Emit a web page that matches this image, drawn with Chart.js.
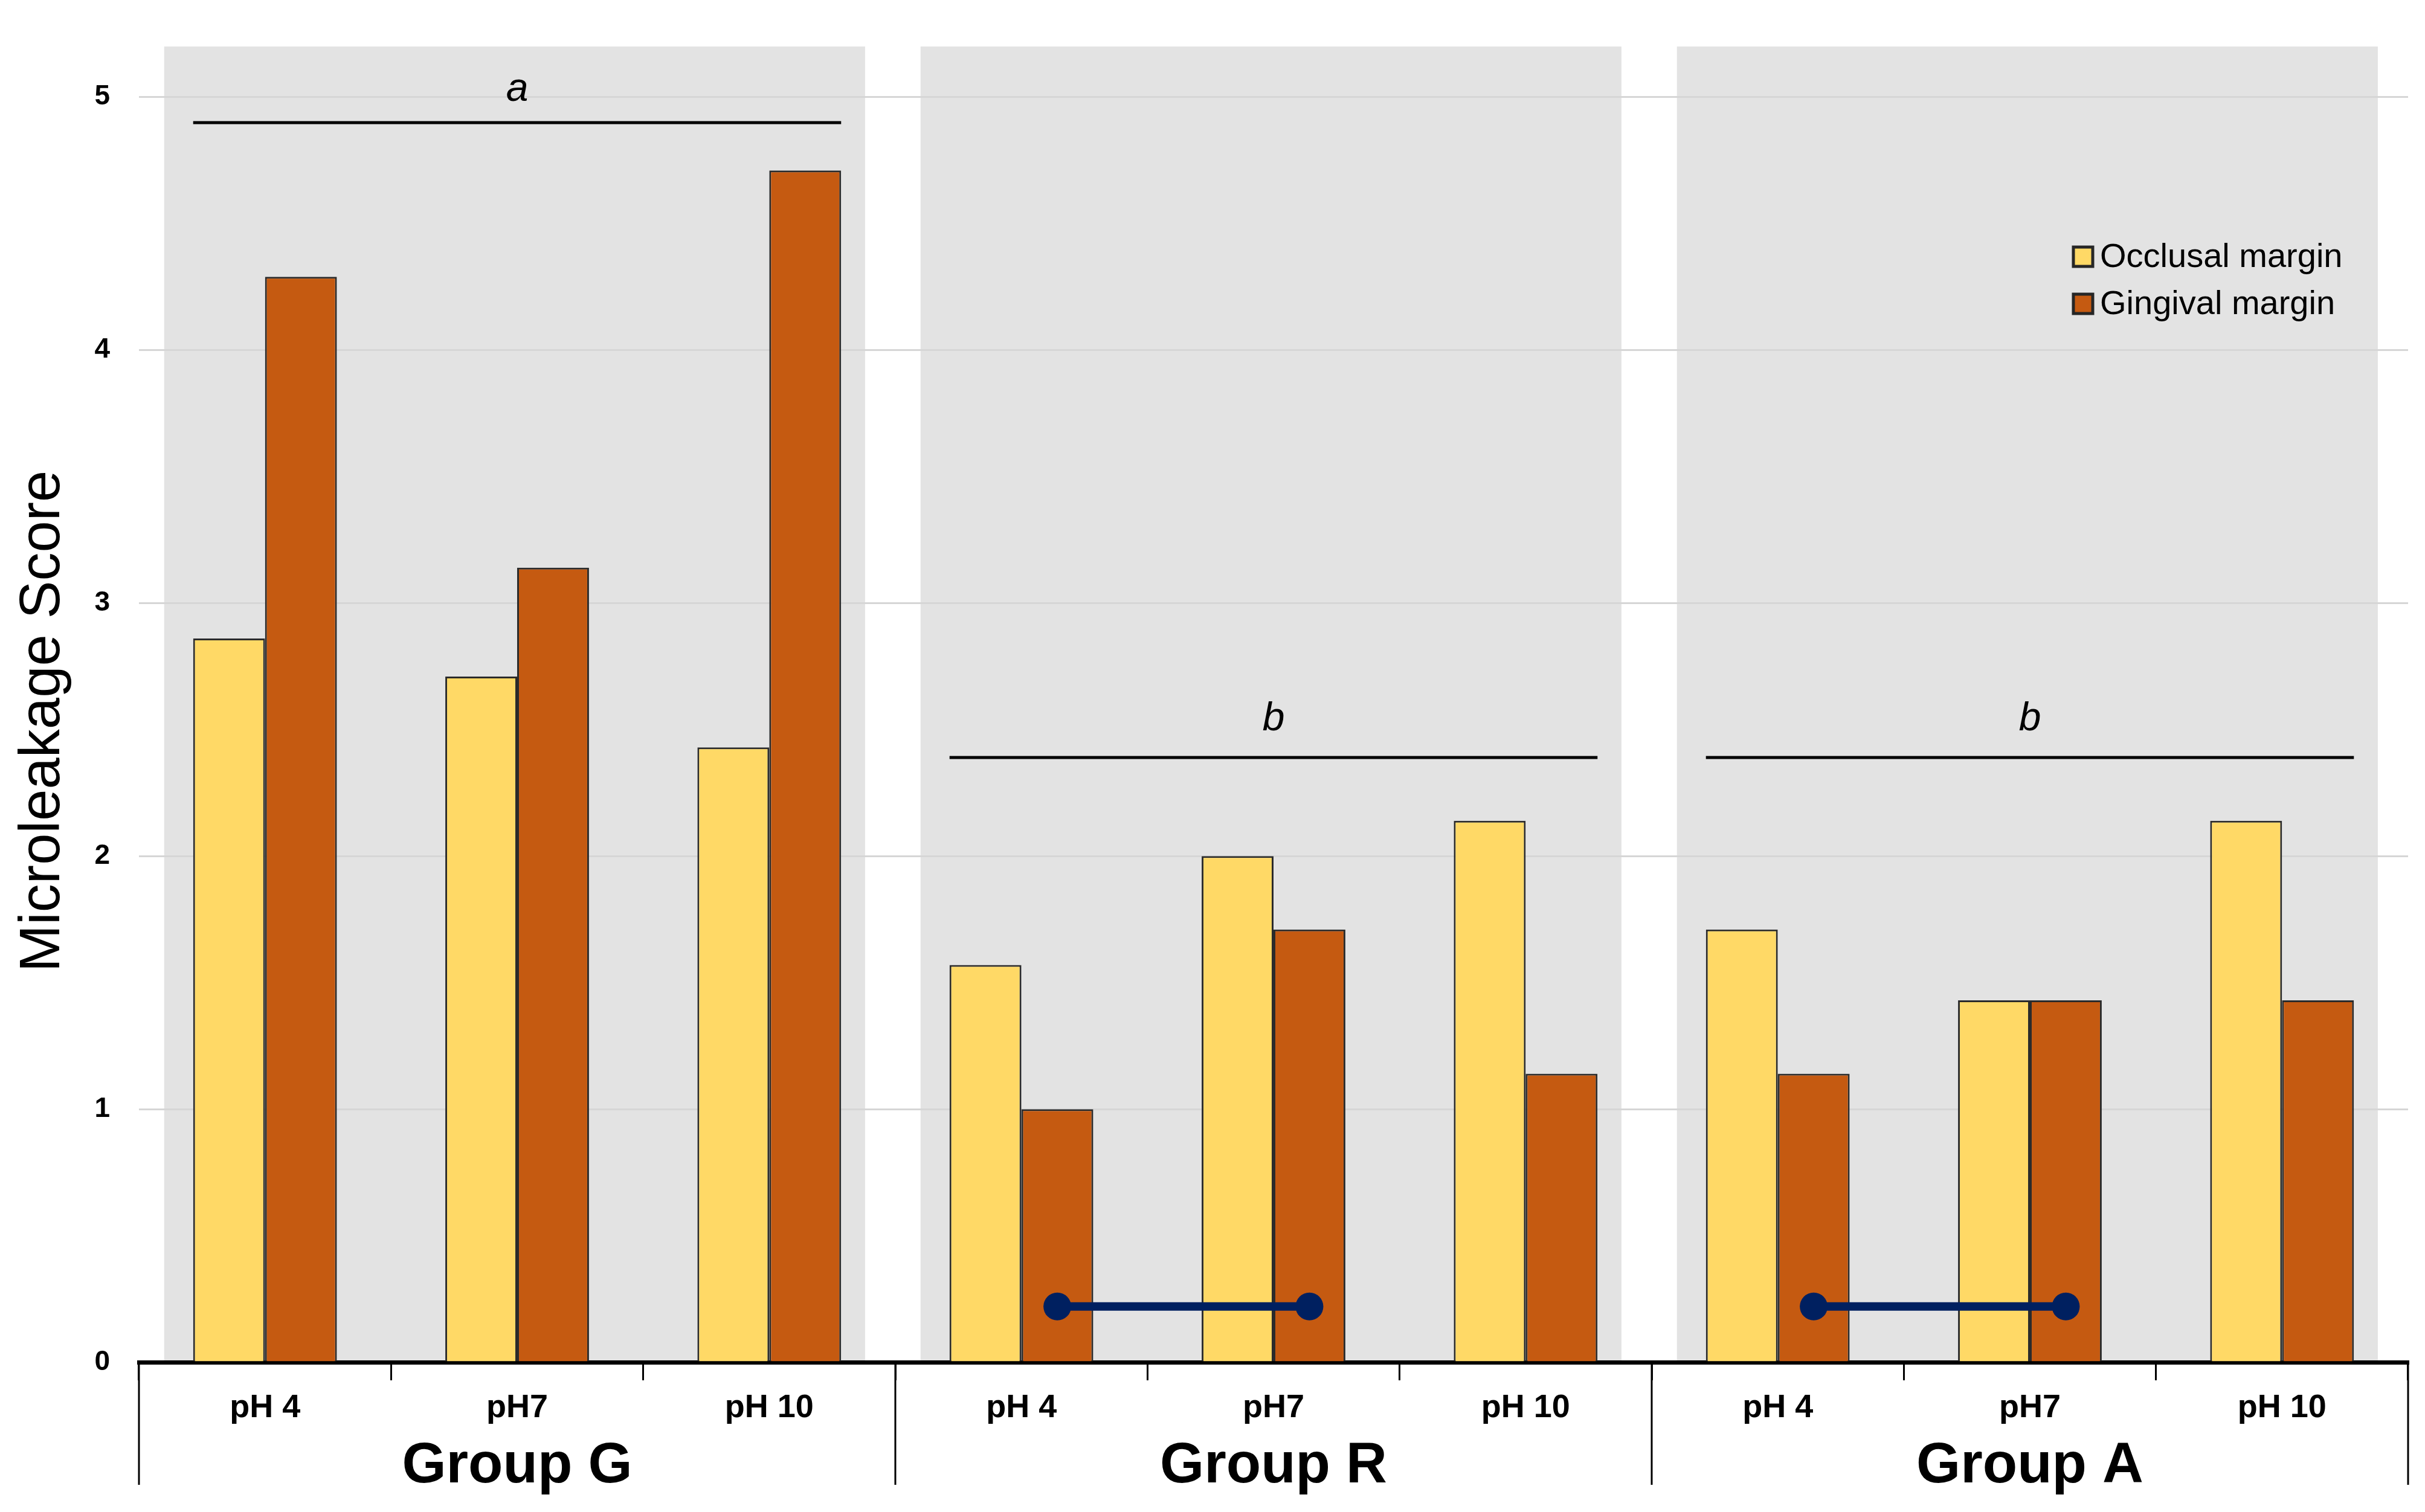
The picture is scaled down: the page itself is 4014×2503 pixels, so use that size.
<!DOCTYPE html>
<html>
<head>
<meta charset="utf-8">
<script src="https://cdn.jsdelivr.net/npm/chart.js@4/dist/chart.umd.min.js"></script>
<style>
  html, body { margin: 0; padding: 0; background: #fff; }
  canvas { display: block; }
</style>
</head>
<body>
<canvas id="chart" width="4014" height="2503"></canvas>
<script>
// Data
const categories = ['pH 4', 'pH7', 'pH 10', 'pH 4', 'pH7', 'pH 10', 'pH 4', 'pH7', 'pH 10'];
const groups = ['Group G', 'Group R', 'Group A'];
const occlusal = [2.86, 2.71, 2.43, 1.57, 2.00, 2.14, 1.71, 1.43, 2.14];
const gingival = [4.29, 3.14, 4.71, 1.00, 1.71, 1.14, 1.14, 1.43, 1.43];
const seriesNames = ['Occlusal margin', 'Gingival margin'];
const sigLetters = ['a', 'b', 'b'];
const sigLineY = [4.90, 2.39, 2.39];
const sigLetterY = [5.03, 2.54, 2.54];
// dumbbell: gingival pH 4 vs gingival pH7 inside group R and group A
const pairGroups = [1, 2];
const pairFrom = [0, 0];
const pairTo = [1, 1];
const pairY = 0.22;

// Styles
const FONT = "'Liberation Sans', Arial, sans-serif";
const occColor = '#FFD966';
const gingColor = '#C55A11';
const navy = '#002060';
const catPct = 0.57;
const halfBar = catPct / 4; // centre offset of each bar in category units

const overlayPlugin = {
    id: 'overlay',
    beforeDraw(chart) {
        const { ctx, chartArea } = chart;
        const x = chart.scales.x;
        ctx.save();
        ctx.fillStyle = '#E3E3E3';
        groups.forEach((g, i) => {
            const l = x.getPixelForValue(i * 3 - 0.4);
            const r = x.getPixelForValue(i * 3 + 2.38);
            ctx.fillRect(l, chartArea.top, r - l, chartArea.bottom - chartArea.top);
        });
        ctx.restore();
    },
    afterDatasetsDraw(chart) {
        const { ctx } = chart;
        const x = chart.scales.x;
        const y = chart.scales.y;
        ctx.save();
        // significance bars + letters
        ctx.strokeStyle = '#000';
        ctx.lineWidth = 5;
        ctx.fillStyle = '#000';
        ctx.textAlign = 'center';
        ctx.textBaseline = 'middle';
        ctx.font = 'italic 66px ' + FONT;
        groups.forEach((g, i) => {
            const py = Math.round(y.getPixelForValue(sigLineY[i]));
            ctx.beginPath();
            ctx.moveTo(x.getPixelForValue(i * 3 - catPct / 2), py);
            ctx.lineTo(x.getPixelForValue(i * 3 + 2 + catPct / 2), py);
            ctx.stroke();
            ctx.fillText(sigLetters[i], x.getPixelForValue(i * 3 + 1), y.getPixelForValue(sigLetterY[i]));
        });
        // dumbbells
        ctx.strokeStyle = navy;
        ctx.fillStyle = navy;
        ctx.lineWidth = 14;
        pairGroups.forEach((g, i) => {
            const x1 = x.getPixelForValue(g * 3 + pairFrom[i] + halfBar);
            const x2 = x.getPixelForValue(g * 3 + pairTo[i] + halfBar);
            const py = y.getPixelForValue(pairY);
            ctx.beginPath();
            ctx.moveTo(x1, py);
            ctx.lineTo(x2, py);
            ctx.stroke();
            [x1, x2].forEach(px => {
                ctx.beginPath();
                ctx.arc(px, py, 23, 0, Math.PI * 2);
                ctx.fill();
            });
        });
        ctx.restore();
    },
    afterDraw(chart) {
        const { ctx, chartArea } = chart;
        const x = chart.scales.x;
        ctx.save();
        ctx.fillStyle = '#000';
        ctx.textAlign = 'center';
        ctx.textBaseline = 'middle';
        // long group separators
        ctx.strokeStyle = '#000';
        ctx.lineWidth = 3;
        for (let i = 0; i <= groups.length; i++) {
            const px = Math.round(x.getPixelForValue(i * 3 - 0.5));
            ctx.beginPath();
            ctx.moveTo(px, chartArea.bottom);
            ctx.lineTo(px, 2458);
            ctx.stroke();
        }
        // group labels
        ctx.font = 'bold 94px ' + FONT;
        groups.forEach((g, i) => {
            ctx.fillText(g, x.getPixelForValue(i * 3 + 1), 2428);
        });
        // y title
        ctx.save();
        ctx.translate(72, 1194);
        ctx.rotate(-Math.PI / 2);
        ctx.font = '94px ' + FONT;
        ctx.fillText('Microleakage Score', 0, 0);
        ctx.restore();
        // legend
        const colors = [occColor, gingColor];
        ctx.textAlign = 'left';
        ctx.font = '56px ' + FONT;
        seriesNames.forEach((name, i) => {
            const cy = 425 + i * 78;
            ctx.fillStyle = colors[i];
            ctx.fillRect(3432, cy - 16, 32, 32);
            ctx.strokeStyle = '#262626';
            ctx.lineWidth = 5;
            ctx.strokeRect(3432, cy - 16, 32, 32);
            ctx.fillStyle = '#000';
            ctx.fillText(name, 3476, cy + 2);
        });
        ctx.restore();
    }
};

new Chart(document.getElementById('chart'), {
    type: 'bar',
    data: {
        labels: categories,
        datasets: [
            { label: seriesNames[0], data: occlusal, backgroundColor: occColor, borderColor: '#2b2b2b', borderWidth: 3, borderSkipped: 'bottom' },
            { label: seriesNames[1], data: gingival, backgroundColor: gingColor, borderColor: '#2b2b2b', borderWidth: 3, borderSkipped: 'bottom' }
        ]
    },
    options: {
        responsive: false,
        devicePixelRatio: 1,
        animation: false,
        categoryPercentage: catPct,
        barPercentage: 1.0,
        layout: { padding: { top: 77, right: 28, left: 0, bottom: 0 } },
        plugins: { legend: { display: false }, tooltip: { enabled: false } },
        scales: {
            x: {
                type: 'category',
                afterFit: s => { s.height = 248; },
                grid: { drawOnChartArea: false, drawTicks: true, tickLength: 30, color: '#000', lineWidth: 3, offset: true },
                border: { display: true, color: '#000', width: 7 },
                ticks: { color: '#000', font: { family: FONT, size: 54, weight: 'bold' }, padding: 14, maxRotation: 0, autoSkip: false }
            },
            y: {
                min: 0,
                max: 5.2,
                afterFit: s => { s.width = 230; },
                ticks: { stepSize: 1, includeBounds: false, color: '#000', padding: 48, font: { family: FONT, size: 46, weight: 'bold' } },
                grid: { color: '#D6D6D6', lineWidth: 3, drawTicks: false },
                border: { display: false }
            }
        }
    },
    plugins: [overlayPlugin]
});
</script>
</body>
</html>
